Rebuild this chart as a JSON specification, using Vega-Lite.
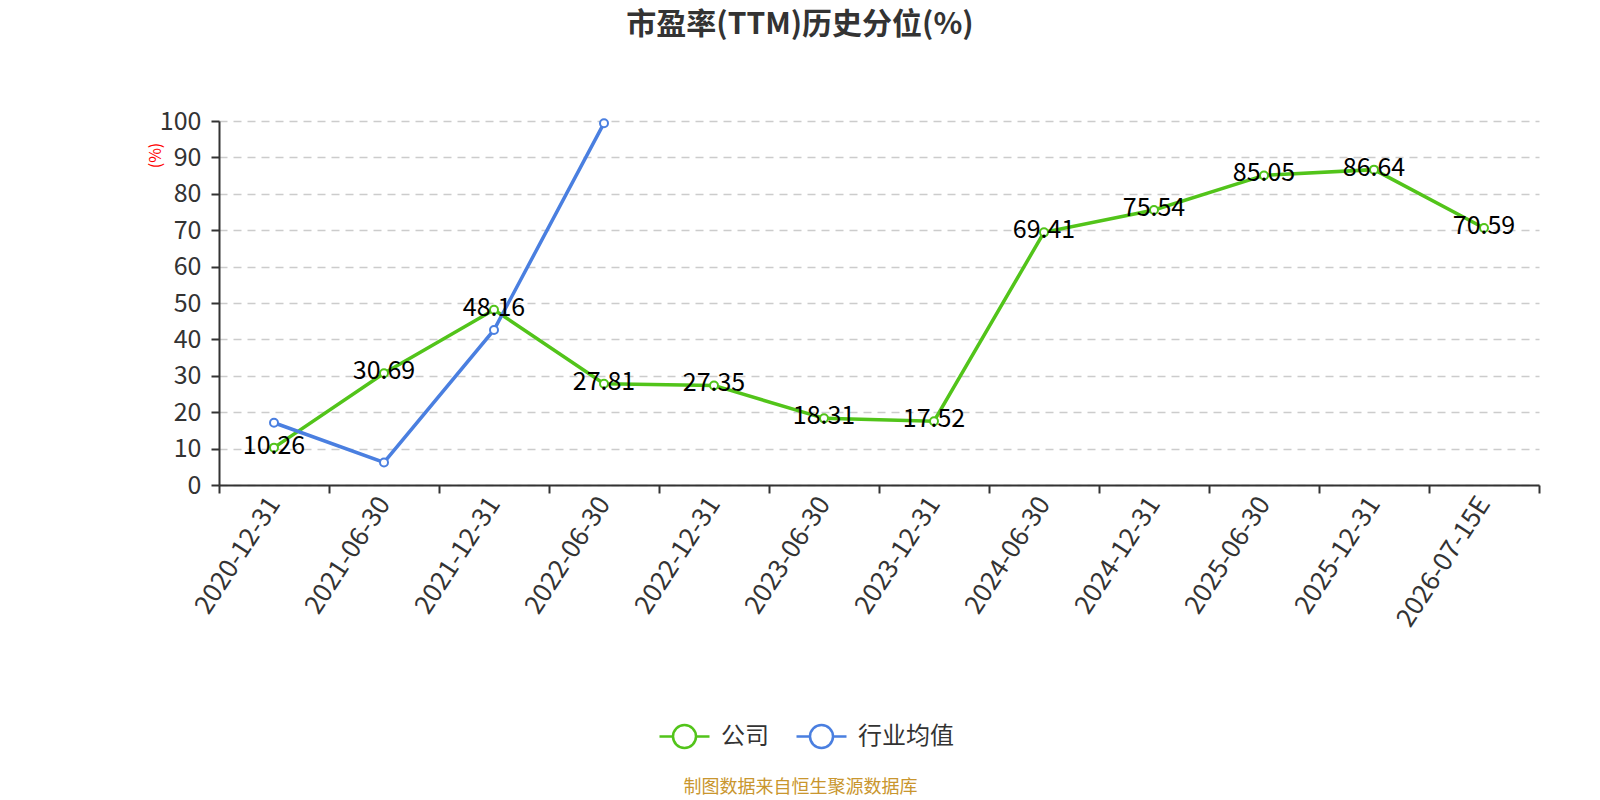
{
  "$schema": "https://vega.github.io/schema/vega-lite/v6.json",
  "width": 1320,
  "height": 364,
  "autosize": {"type": "none"},
  "padding": {"left": 219, "top": 121, "right": 61, "bottom": 315},
  "background": "white",
  "config": {
    "font": "Noto Sans CJK SC",
    "view": {"stroke": null}
  },
  "title": {
    "text": "市盈率(TTM)历史分位(%)",
    "anchor": "middle",
    "dx": -79,
    "offset": 54,
    "baseline": "middle",
    "fontSize": 30,
    "fontWeight": "bold",
    "color": "#333333"
  },
  "data": {
    "values": [
      {"date": "2020-12-31", "series": "公司", "value": 10.26},
      {"date": "2021-06-30", "series": "公司", "value": 30.69},
      {"date": "2021-12-31", "series": "公司", "value": 48.16},
      {"date": "2022-06-30", "series": "公司", "value": 27.81},
      {"date": "2022-12-31", "series": "公司", "value": 27.35},
      {"date": "2023-06-30", "series": "公司", "value": 18.31},
      {"date": "2023-12-31", "series": "公司", "value": 17.52},
      {"date": "2024-06-30", "series": "公司", "value": 69.41},
      {"date": "2024-12-31", "series": "公司", "value": 75.54},
      {"date": "2025-06-30", "series": "公司", "value": 85.05},
      {"date": "2025-12-31", "series": "公司", "value": 86.64},
      {"date": "2026-07-15E", "series": "公司", "value": 70.59},
      {"date": "2020-12-31", "series": "行业均值", "value": 17.1},
      {"date": "2021-06-30", "series": "行业均值", "value": 6.2},
      {"date": "2021-12-31", "series": "行业均值", "value": 42.6},
      {"date": "2022-06-30", "series": "行业均值", "value": 99.4}
    ]
  },
  "encoding": {
    "x": {
      "field": "date",
      "type": "ordinal",
      "sort": null,
      "scale": {"type": "band", "paddingInner": 0, "paddingOuter": 0},
      "axis": {
        "title": "制图数据来自恒生聚源数据库",
        "titleColor": "#c9962e",
        "titleFontSize": 18,
        "titleFontWeight": "normal",
        "titleX": 581,
        "titleY": 302,
        "titleAlign": "center",
        "titleBaseline": "middle",
        "tickBand": "extent",
        "labelAngle": -57,
        "labelFontSize": 26,
        "labelColor": "#333333",
        "labelPadding": 6,
        "tickSize": 8,
        "tickColor": "#333333",
        "tickWidth": 2,
        "domainColor": "#333333",
        "domainWidth": 2,
        "grid": false
      }
    },
    "y": {
      "field": "value",
      "type": "quantitative",
      "scale": {"domain": [0, 100], "nice": false},
      "axis": {
        "title": "(%)",
        "titleColor": "red",
        "titleFontSize": 16,
        "titleFontWeight": "normal",
        "titleX": -64,
        "titleY": 34,
        "titleAlign": "center",
        "titleBaseline": "middle",
        "values": [0, 10, 20, 30, 40, 50, 60, 70, 80, 90, 100],
        "labelFontSize": 25,
        "labelColor": "#333333",
        "labelPadding": 10,
        "tickSize": 8,
        "tickColor": "#333333",
        "tickWidth": 2,
        "domainColor": "#333333",
        "domainWidth": 2,
        "grid": true,
        "gridColor": "#cccccc",
        "gridDash": [8, 6],
        "gridWidth": 1.5
      }
    }
  },
  "layer": [
    {
      "mark": {"type": "line", "strokeWidth": 3.5},
      "encoding": {
        "color": {
          "field": "series",
          "type": "nominal",
          "scale": {"domain": ["公司", "行业均值"], "range": ["#52c41a", "#4a7fe0"]},
          "legend": {
            "title": null,
            "orient": "none",
            "direction": "horizontal",
            "legendX": 439,
            "legendY": 589,
            "symbolType": "M-1,0H-0.46M0.46,0H1M0.46,0A0.46,0.46 0 1 1 -0.46,0A0.46,0.46 0 1 1 0.46,0",
            "symbolSize": 2500,
            "symbolStrokeWidth": 2.5,
            "symbolFillColor": "white",
            "symbolOpacity": 1,
            "labelFontSize": 24,
            "labelColor": "#333333",
            "labelOffset": 10,
            "columnPadding": 22
          }
        }
      }
    },
    {
      "mark": {"type": "point", "shape": "circle", "filled": false, "fill": "white", "fillOpacity": 1, "opacity": 1, "strokeWidth": 2, "size": 64},
      "encoding": {
        "stroke": {"field": "series", "type": "nominal", "scale": {"domain": ["公司", "行业均值"], "range": ["#52c41a", "#4a7fe0"]}, "legend": null}
      }
    },
    {
      "transform": [{"filter": "datum.series === '公司'"}],
      "mark": {"type": "text", "fontSize": 25, "baseline": "middle", "dy": -2, "color": "black"},
      "encoding": {
        "text": {"field": "value", "type": "quantitative", "format": ".2f"}
      }
    }
  ]
}
